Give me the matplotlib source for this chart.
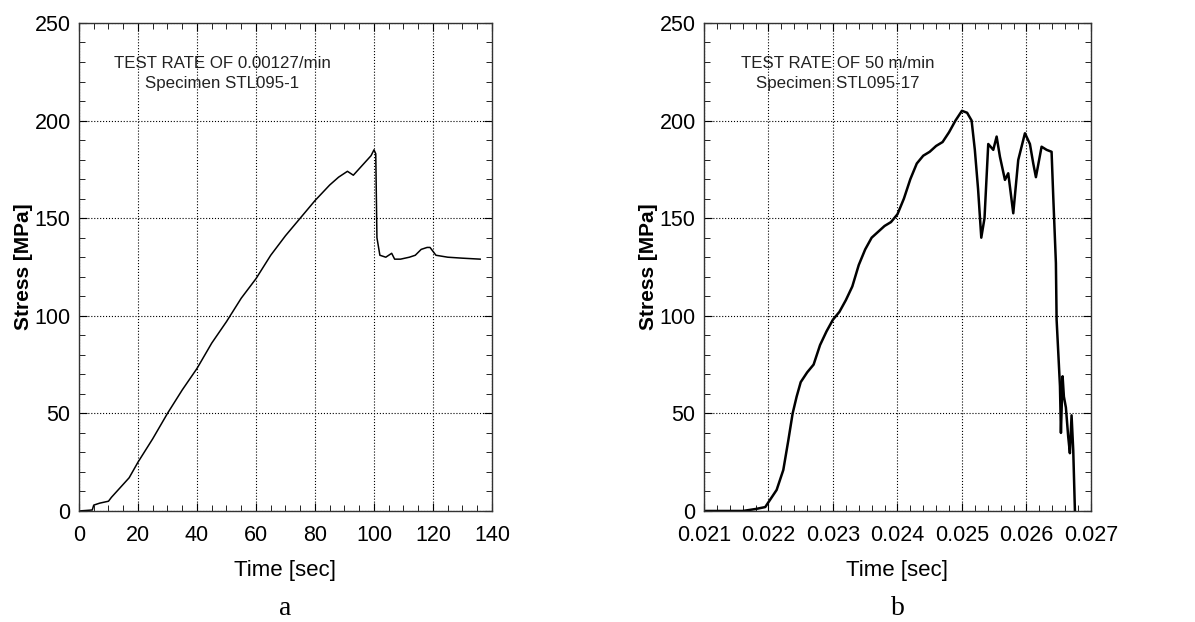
import matplotlib
matplotlib.use("Agg")
import matplotlib.pyplot as plt
from matplotlib.ticker import MultipleLocator, FormatStrFormatter

plt.rcParams['font.family'] = ['Liberation Sans', 'DejaVu Sans']

# panel a: slow test (time in sec, stress in MPa)
time_a = [0, 4.5, 5, 7, 10, 11, 14, 17, 20, 25, 30, 35, 40, 45, 50, 55, 60, 65,
          70, 75, 80, 85, 88, 90, 91, 93, 96, 99, 100, 100.3, 100.6, 101, 102,
          104, 105, 106, 107, 109, 112, 114, 116, 118, 119, 121, 125, 130, 136]
stress_a = [0, 0.5, 3, 4, 5, 7, 12, 17, 25, 37, 50, 62, 73, 86, 97, 109, 119, 131,
            141, 150, 159, 167, 171, 173, 174, 172, 177, 182, 185, 184, 183, 140, 131,
            130, 131, 132, 129, 129, 130, 131, 134, 135, 135, 131, 130, 129.5, 129]

# panel b: fast test
time_b = [0.0210, 0.0216, 0.0218, 0.02195, 0.0220, 0.022127, 0.02223, 0.022307,
          0.022375, 0.022437, 0.0225, 0.0226, 0.0227, 0.0228, 0.0229, 0.0230,
          0.0231, 0.0232, 0.0233, 0.0234, 0.0235, 0.0236, 0.0237, 0.0238, 0.0239,
          0.0240, 0.0241, 0.0242, 0.0243, 0.0244, 0.0245, 0.0246, 0.0247, 0.0248,
          0.0249, 0.0250, 0.02508, 0.02515, 0.0252, 0.02525, 0.0253, 0.02535,
          0.025408, 0.025486, 0.025538, 0.025589, 0.025667, 0.025718,
          0.025796, 0.025873, 0.025977, 0.026054, 0.026106, 0.026147, 0.026235,
          0.026313, 0.02639, 0.026416, 0.026457, 0.026468, 0.026494, 0.02652,
          0.026535, 0.026561, 0.026581, 0.026612, 0.026648, 0.026674, 0.0267,
          0.026726, 0.026752]
stress_b = [0, 0, 1, 2, 4.5, 10.8, 21, 36, 50, 58.6, 66, 71, 75, 85, 92, 98,
            102, 108, 115, 126, 134, 140, 143, 146, 148, 152, 160, 170, 178, 182,
            184, 187, 189, 194, 200, 205, 204, 200, 185, 165, 140, 150,
            188, 185, 191.8, 181.5, 169.6, 173, 152.5, 179.8,
            193.5, 188, 178, 171, 186.6, 185, 184, 161, 127, 98, 81, 64, 40, 69,
            58.6, 53, 38, 29.6, 49, 31, 0]

panels = [
    dict(x=time_a, y=stress_a, xlim=(0, 140), major=20, minor=5, lw=1.1,
         text="TEST RATE OF 0.00127/min\nSpecimen STL095-1", tx=48.5, tag="a",
         fmt=None, rect=[0.0661, 0.1785, 0.3456, 0.7846]),
    dict(x=time_b, y=stress_b, xlim=(0.021, 0.027), major=0.001, minor=0.0002, lw=1.8,
         text="TEST RATE OF 50 m/min\nSpecimen STL095-17", tx=0.02308, tag="b",
         fmt="%.3f", rect=[0.5891, 0.1785, 0.3238, 0.7846]),
]

fig = plt.figure(figsize=(11.95, 6.22), dpi=100)

for p in panels:
    ax = fig.add_axes(p["rect"])
    ax.plot(p["x"], p["y"], color="black", lw=p["lw"])
    ax.set_xlim(*p["xlim"])
    ax.set_ylim(0, 250)
    ax.xaxis.set_major_locator(MultipleLocator(p["major"]))
    ax.xaxis.set_minor_locator(MultipleLocator(p["minor"]))
    ax.yaxis.set_major_locator(MultipleLocator(50))
    ax.yaxis.set_minor_locator(MultipleLocator(10))
    if p["fmt"]:
        ax.xaxis.set_major_formatter(FormatStrFormatter(p["fmt"]))
    ax.tick_params(which="both", direction="in", top=True, right=True,
                   labelsize=15.5)
    ax.tick_params(axis="x", which="major", pad=10)
    ax.tick_params(axis="y", which="major", pad=6)
    ax.tick_params(which="major", length=6)
    ax.tick_params(which="minor", length=4)
    ax.grid(True, which="major", color="black", linestyle=":", linewidth=0.8)
    for s in ax.spines.values():
        s.set_linewidth(1.0)
        s.set_color("#333333")
    ax.set_xlabel("Time [sec]", fontsize=16, labelpad=10)
    ax.set_ylabel("Stress [MPa]", fontsize=15, fontweight="bold", labelpad=1)
    ax.text(p["tx"], 224, p["text"], ha="center", va="center", fontsize=12.2,
            color="#222222", linespacing=1.4)
    ax.text(0.5, -0.2, p["tag"], transform=ax.transAxes, ha="center", va="center",
            fontsize=20, family="Liberation Serif")

fig.savefig("out.png", dpi=100)
